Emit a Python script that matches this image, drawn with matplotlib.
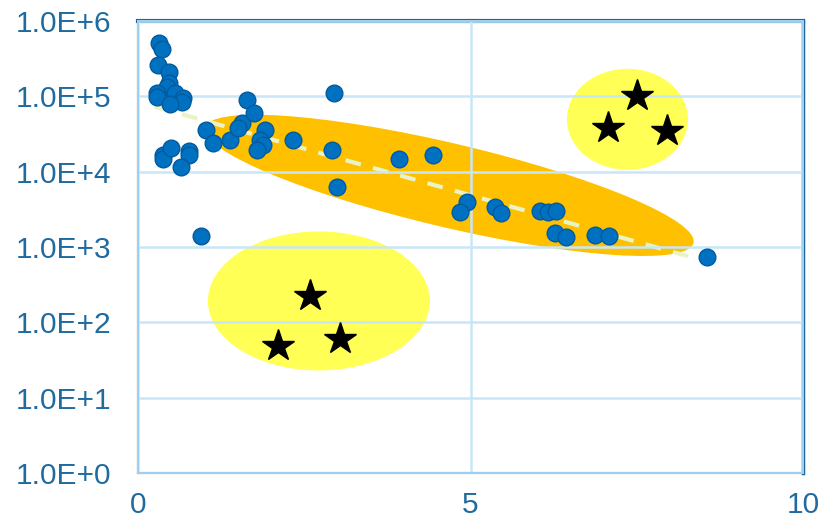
import numpy as np
import matplotlib
matplotlib.use("Agg")
import matplotlib.pyplot as plt
from matplotlib.patches import Ellipse, Rectangle
from matplotlib.transforms import IdentityTransform

# Measured samples (x, y)
sample_x = [0.32, 0.36, 0.30, 0.47, 0.47, 0.44, 0.29, 0.29, 0.56, 0.68, 0.66, 0.48,
            0.38, 0.38, 0.50, 0.77, 0.77, 0.65, 0.95, 1.02, 1.13, 1.38, 1.56, 1.50,
            1.64, 1.74, 1.91, 1.84, 1.88, 1.79, 2.33, 2.95, 2.92, 2.99, 3.93, 4.44,
            4.95, 4.84, 5.37, 5.46, 6.05, 6.17, 6.29, 6.27, 6.44, 6.87, 7.08, 8.56]
sample_y = [5.1e5, 4.3e5, 2.6e5, 2.1e5, 1.5e5, 1.34e5, 1.1e5, 9.8e4, 1.1e5, 9.5e4, 8.5e4, 7.9e4,
            1.67e4, 1.48e4, 2.07e4, 1.89e4, 1.67e4, 1.16e4, 1.4e3, 3.6e4, 2.4e4, 2.64e4, 4.45e4, 3.8e4,
            9.0e4, 6.0e4, 3.6e4, 2.64e4, 2.27e4, 1.95e4, 2.64e4, 1.11e5, 1.95e4, 6.3e3, 1.48e4, 1.67e4,
            3.97e3, 2.93e3, 3.41e3, 2.84e3, 3.02e3, 2.93e3, 3.02e3, 1.54e3, 1.36e3, 1.45e3, 1.40e3, 7.4e2]

# Exponential trend: log10(y) = trend_intercept + trend_slope * x
trend_intercept = 4.925
trend_slope = -0.2475
trend_x_range = [0.25, 8.56]

# Outlier groups
low_star_x = [2.59, 2.11, 3.04]
low_star_y = [224, 48.6, 60]
high_star_x = [7.50, 7.07, 7.96]
high_star_y = [1.0e5, 3.8e4, 3.5e4]

x_ticks = [0, 5, 10]
y_ticks = [1e0, 1e1, 1e2, 1e3, 1e4, 1e5, 1e6]
y_tick_labels = ["1.0E+0", "1.0E+1", "1.0E+2", "1.0E+3", "1.0E+4", "1.0E+5", "1.0E+6"]

# Highlight regions: centre (x, y), width/height in pixels, rotation in degrees
region_main = dict(center=(4.68, 10 ** 3.818), w=502, h=84, angle=-13.26, color="#FFC000")
region_low = dict(center=(2.72, 10 ** 2.284), w=222, h=139, angle=0, color="#FFFF55")
region_high = dict(center=(7.36, 10 ** 4.695), w=121, h=101, angle=0, color="#FFFF55")

blue = "#0070C0"
blue_edge = "#005A9E"
label_color = "#1F6A9E"
grid_color = "#C8E6F8"
frame_dark = "#1A6496"

plt.rcParams["font.family"] = ["Liberation Sans", "DejaVu Sans"]

fig = plt.figure(figsize=(8.2, 5.25), dpi=100)
ax = fig.add_axes([138 / 820, 1 - 473 / 525, 665 / 820, 452 / 525])
ax.set_yscale("log")
ax.set_xlim(0, 10)
ax.set_ylim(1, 1e6)
ax.minorticks_off()
ax.set_xticks(x_ticks)
ax.set_xticklabels([str(t) for t in x_ticks])
ax.set_yticks(y_ticks)
ax.set_yticklabels(y_tick_labels)
ax.tick_params(length=0, labelsize=21.5, labelcolor=label_color)
ax.tick_params(axis="y", pad=19)
ax.tick_params(axis="x", pad=13)

for reg in (region_main, region_low, region_high):
    cx, cy = ax.transData.transform(reg["center"])
    ax.add_patch(Ellipse((cx, cy), reg["w"], reg["h"], angle=reg["angle"],
                         transform=IdentityTransform(), facecolor=reg["color"],
                         edgecolor="none", zorder=0.5))

ax.grid(True, color=grid_color, lw=1.8, zorder=1)
ax.set_axisbelow(False)
for line in ax.get_xgridlines() + ax.get_ygridlines():
    line.set_zorder(1)

tx = np.linspace(trend_x_range[0], trend_x_range[1], 100)
ax.plot(tx, 10 ** (trend_intercept + trend_slope * tx), color="#EAF3C6", lw=3,
        dashes=(3.8, 3.0), solid_capstyle="butt", zorder=2)

ax.plot(sample_x, sample_y, "o", ms=12, color=blue, mec=blue_edge, mew=1, zorder=3)
ax.plot(low_star_x, low_star_y, "*", ms=24, color="black", zorder=4)
ax.plot(high_star_x, high_star_y, "*", ms=24, color="black", zorder=4)

for s in ax.spines.values():
    s.set_color(frame_dark)
    s.set_linewidth(1.5)
ax.spines["top"].set_linewidth(3)
ax.spines["right"].set_linewidth(2.5)
ax.add_patch(Rectangle((0, 0), 1, 1, transform=ax.transAxes, fill=False,
                       edgecolor="#9DD0F0", lw=1.5, zorder=5, clip_on=False))

fig.savefig("out.png", dpi=100)
